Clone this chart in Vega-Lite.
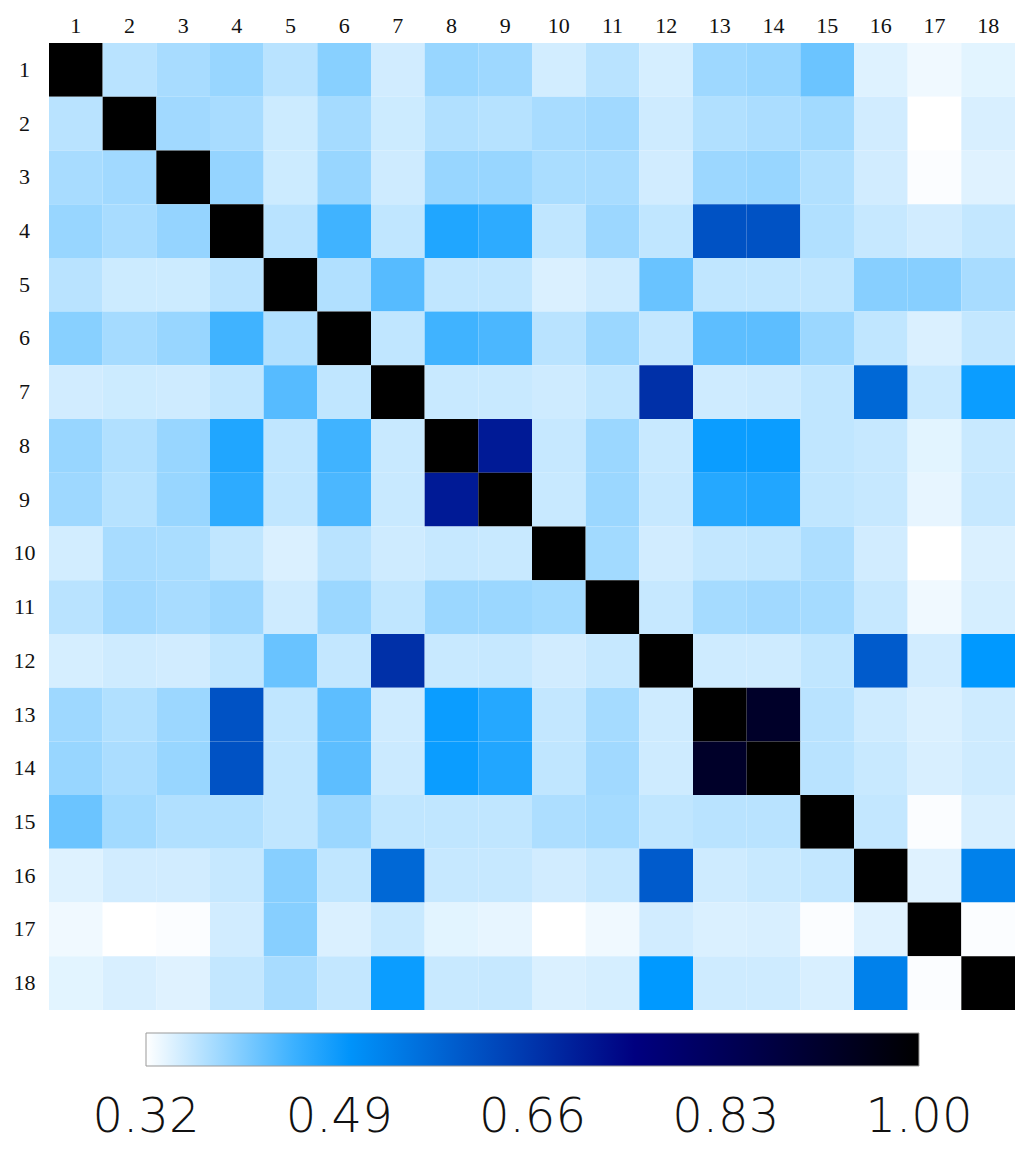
{
  "$schema": "https://vega.github.io/schema/vega-lite/v6.json",
  "width": 966,
  "height": 967,
  "autosize": {"type": "none"},
  "padding": {"left": 49, "top": 43, "right": 9, "bottom": 151},
  "background": "white",
  "config": {"view": {"stroke": null}},
  "data": {"values": [
{"r":1,"c":1,"v":1},{"r":1,"c":2,"v":0.367},{"r":1,"c":3,"v":0.378},{"r":1,"c":4,"v":0.389},{"r":1,"c":5,"v":0.367},{"r":1,"c":6,"v":0.399},{"r":1,"c":7,"v":0.351},{"r":1,"c":8,"v":0.389},{"r":1,"c":9,"v":0.385},{"r":1,"c":10,"v":0.350},{"r":1,"c":11,"v":0.367},{"r":1,"c":12,"v":0.348},{"r":1,"c":13,"v":0.385},{"r":1,"c":14,"v":0.389},{"r":1,"c":15,"v":0.419},{"r":1,"c":16,"v":0.342},{"r":1,"c":17,"v":0.330},{"r":1,"c":18,"v":0.339},
{"r":2,"c":1,"v":0.367},{"r":2,"c":2,"v":1},{"r":2,"c":3,"v":0.383},{"r":2,"c":4,"v":0.378},{"r":2,"c":5,"v":0.354},{"r":2,"c":6,"v":0.380},{"r":2,"c":7,"v":0.354},{"r":2,"c":8,"v":0.372},{"r":2,"c":9,"v":0.369},{"r":2,"c":10,"v":0.378},{"r":2,"c":11,"v":0.383},{"r":2,"c":12,"v":0.353},{"r":2,"c":13,"v":0.372},{"r":2,"c":14,"v":0.376},{"r":2,"c":15,"v":0.382},{"r":2,"c":16,"v":0.351},{"r":2,"c":17,"v":0.320},{"r":2,"c":18,"v":0.346},
{"r":3,"c":1,"v":0.378},{"r":3,"c":2,"v":0.383},{"r":3,"c":3,"v":1},{"r":3,"c":4,"v":0.391},{"r":3,"c":5,"v":0.354},{"r":3,"c":6,"v":0.389},{"r":3,"c":7,"v":0.353},{"r":3,"c":8,"v":0.389},{"r":3,"c":9,"v":0.389},{"r":3,"c":10,"v":0.377},{"r":3,"c":11,"v":0.378},{"r":3,"c":12,"v":0.351},{"r":3,"c":13,"v":0.386},{"r":3,"c":14,"v":0.389},{"r":3,"c":15,"v":0.372},{"r":3,"c":16,"v":0.351},{"r":3,"c":17,"v":0.323},{"r":3,"c":18,"v":0.341},
{"r":4,"c":1,"v":0.389},{"r":4,"c":2,"v":0.378},{"r":4,"c":3,"v":0.391},{"r":4,"c":4,"v":1},{"r":4,"c":5,"v":0.367},{"r":4,"c":6,"v":0.447},{"r":4,"c":7,"v":0.362},{"r":4,"c":8,"v":0.469},{"r":4,"c":9,"v":0.460},{"r":4,"c":10,"v":0.362},{"r":4,"c":11,"v":0.386},{"r":4,"c":12,"v":0.362},{"r":4,"c":13,"v":0.610},{"r":4,"c":14,"v":0.610},{"r":4,"c":15,"v":0.372},{"r":4,"c":16,"v":0.358},{"r":4,"c":17,"v":0.351},{"r":4,"c":18,"v":0.360},
{"r":5,"c":1,"v":0.367},{"r":5,"c":2,"v":0.354},{"r":5,"c":3,"v":0.354},{"r":5,"c":4,"v":0.367},{"r":5,"c":5,"v":1},{"r":5,"c":6,"v":0.372},{"r":5,"c":7,"v":0.433},{"r":5,"c":8,"v":0.362},{"r":5,"c":9,"v":0.362},{"r":5,"c":10,"v":0.345},{"r":5,"c":11,"v":0.353},{"r":5,"c":12,"v":0.420},{"r":5,"c":13,"v":0.362},{"r":5,"c":14,"v":0.362},{"r":5,"c":15,"v":0.362},{"r":5,"c":16,"v":0.400},{"r":5,"c":17,"v":0.400},{"r":5,"c":18,"v":0.378},
{"r":6,"c":1,"v":0.399},{"r":6,"c":2,"v":0.380},{"r":6,"c":3,"v":0.389},{"r":6,"c":4,"v":0.447},{"r":6,"c":5,"v":0.372},{"r":6,"c":6,"v":1},{"r":6,"c":7,"v":0.362},{"r":6,"c":8,"v":0.447},{"r":6,"c":9,"v":0.440},{"r":6,"c":10,"v":0.367},{"r":6,"c":11,"v":0.387},{"r":6,"c":12,"v":0.360},{"r":6,"c":13,"v":0.428},{"r":6,"c":14,"v":0.428},{"r":6,"c":15,"v":0.387},{"r":6,"c":16,"v":0.362},{"r":6,"c":17,"v":0.345},{"r":6,"c":18,"v":0.360},
{"r":7,"c":1,"v":0.351},{"r":7,"c":2,"v":0.354},{"r":7,"c":3,"v":0.353},{"r":7,"c":4,"v":0.362},{"r":7,"c":5,"v":0.433},{"r":7,"c":6,"v":0.362},{"r":7,"c":7,"v":1},{"r":7,"c":8,"v":0.357},{"r":7,"c":9,"v":0.357},{"r":7,"c":10,"v":0.353},{"r":7,"c":11,"v":0.362},{"r":7,"c":12,"v":0.668},{"r":7,"c":13,"v":0.353},{"r":7,"c":14,"v":0.355},{"r":7,"c":15,"v":0.362},{"r":7,"c":16,"v":0.573},{"r":7,"c":17,"v":0.357},{"r":7,"c":18,"v":0.483},
{"r":8,"c":1,"v":0.389},{"r":8,"c":2,"v":0.372},{"r":8,"c":3,"v":0.389},{"r":8,"c":4,"v":0.469},{"r":8,"c":5,"v":0.362},{"r":8,"c":6,"v":0.447},{"r":8,"c":7,"v":0.357},{"r":8,"c":8,"v":1},{"r":8,"c":9,"v":0.705},{"r":8,"c":10,"v":0.358},{"r":8,"c":11,"v":0.387},{"r":8,"c":12,"v":0.357},{"r":8,"c":13,"v":0.483},{"r":8,"c":14,"v":0.483},{"r":8,"c":15,"v":0.362},{"r":8,"c":16,"v":0.358},{"r":8,"c":17,"v":0.339},{"r":8,"c":18,"v":0.357},
{"r":9,"c":1,"v":0.385},{"r":9,"c":2,"v":0.369},{"r":9,"c":3,"v":0.389},{"r":9,"c":4,"v":0.460},{"r":9,"c":5,"v":0.362},{"r":9,"c":6,"v":0.440},{"r":9,"c":7,"v":0.357},{"r":9,"c":8,"v":0.705},{"r":9,"c":9,"v":1},{"r":9,"c":10,"v":0.357},{"r":9,"c":11,"v":0.387},{"r":9,"c":12,"v":0.358},{"r":9,"c":13,"v":0.465},{"r":9,"c":14,"v":0.468},{"r":9,"c":15,"v":0.362},{"r":9,"c":16,"v":0.358},{"r":9,"c":17,"v":0.336},{"r":9,"c":18,"v":0.358},
{"r":10,"c":1,"v":0.350},{"r":10,"c":2,"v":0.378},{"r":10,"c":3,"v":0.377},{"r":10,"c":4,"v":0.362},{"r":10,"c":5,"v":0.345},{"r":10,"c":6,"v":0.367},{"r":10,"c":7,"v":0.353},{"r":10,"c":8,"v":0.358},{"r":10,"c":9,"v":0.357},{"r":10,"c":10,"v":1},{"r":10,"c":11,"v":0.382},{"r":10,"c":12,"v":0.351},{"r":10,"c":13,"v":0.360},{"r":10,"c":14,"v":0.362},{"r":10,"c":15,"v":0.375},{"r":10,"c":16,"v":0.351},{"r":10,"c":17,"v":0.320},{"r":10,"c":18,"v":0.345},
{"r":11,"c":1,"v":0.367},{"r":11,"c":2,"v":0.383},{"r":11,"c":3,"v":0.378},{"r":11,"c":4,"v":0.386},{"r":11,"c":5,"v":0.353},{"r":11,"c":6,"v":0.387},{"r":11,"c":7,"v":0.362},{"r":11,"c":8,"v":0.387},{"r":11,"c":9,"v":0.387},{"r":11,"c":10,"v":0.382},{"r":11,"c":11,"v":1},{"r":11,"c":12,"v":0.358},{"r":11,"c":13,"v":0.380},{"r":11,"c":14,"v":0.383},{"r":11,"c":15,"v":0.380},{"r":11,"c":16,"v":0.358},{"r":11,"c":17,"v":0.330},{"r":11,"c":18,"v":0.348},
{"r":12,"c":1,"v":0.348},{"r":12,"c":2,"v":0.353},{"r":12,"c":3,"v":0.351},{"r":12,"c":4,"v":0.362},{"r":12,"c":5,"v":0.420},{"r":12,"c":6,"v":0.360},{"r":12,"c":7,"v":0.668},{"r":12,"c":8,"v":0.357},{"r":12,"c":9,"v":0.358},{"r":12,"c":10,"v":0.351},{"r":12,"c":11,"v":0.358},{"r":12,"c":12,"v":1},{"r":12,"c":13,"v":0.353},{"r":12,"c":14,"v":0.353},{"r":12,"c":15,"v":0.362},{"r":12,"c":16,"v":0.595},{"r":12,"c":17,"v":0.351},{"r":12,"c":18,"v":0.490},
{"r":13,"c":1,"v":0.385},{"r":13,"c":2,"v":0.372},{"r":13,"c":3,"v":0.386},{"r":13,"c":4,"v":0.610},{"r":13,"c":5,"v":0.362},{"r":13,"c":6,"v":0.428},{"r":13,"c":7,"v":0.353},{"r":13,"c":8,"v":0.483},{"r":13,"c":9,"v":0.465},{"r":13,"c":10,"v":0.360},{"r":13,"c":11,"v":0.380},{"r":13,"c":12,"v":0.353},{"r":13,"c":13,"v":1},{"r":13,"c":14,"v":0.920},{"r":13,"c":15,"v":0.367},{"r":13,"c":16,"v":0.353},{"r":13,"c":17,"v":0.345},{"r":13,"c":18,"v":0.353},
{"r":14,"c":1,"v":0.389},{"r":14,"c":2,"v":0.376},{"r":14,"c":3,"v":0.389},{"r":14,"c":4,"v":0.610},{"r":14,"c":5,"v":0.362},{"r":14,"c":6,"v":0.428},{"r":14,"c":7,"v":0.355},{"r":14,"c":8,"v":0.483},{"r":14,"c":9,"v":0.468},{"r":14,"c":10,"v":0.362},{"r":14,"c":11,"v":0.383},{"r":14,"c":12,"v":0.353},{"r":14,"c":13,"v":0.920},{"r":14,"c":14,"v":1},{"r":14,"c":15,"v":0.367},{"r":14,"c":16,"v":0.357},{"r":14,"c":17,"v":0.346},{"r":14,"c":18,"v":0.353},
{"r":15,"c":1,"v":0.419},{"r":15,"c":2,"v":0.382},{"r":15,"c":3,"v":0.372},{"r":15,"c":4,"v":0.372},{"r":15,"c":5,"v":0.362},{"r":15,"c":6,"v":0.387},{"r":15,"c":7,"v":0.362},{"r":15,"c":8,"v":0.362},{"r":15,"c":9,"v":0.362},{"r":15,"c":10,"v":0.375},{"r":15,"c":11,"v":0.380},{"r":15,"c":12,"v":0.362},{"r":15,"c":13,"v":0.367},{"r":15,"c":14,"v":0.367},{"r":15,"c":15,"v":1},{"r":15,"c":16,"v":0.360},{"r":15,"c":17,"v":0.323},{"r":15,"c":18,"v":0.346},
{"r":16,"c":1,"v":0.342},{"r":16,"c":2,"v":0.351},{"r":16,"c":3,"v":0.351},{"r":16,"c":4,"v":0.358},{"r":16,"c":5,"v":0.400},{"r":16,"c":6,"v":0.362},{"r":16,"c":7,"v":0.573},{"r":16,"c":8,"v":0.358},{"r":16,"c":9,"v":0.358},{"r":16,"c":10,"v":0.351},{"r":16,"c":11,"v":0.358},{"r":16,"c":12,"v":0.595},{"r":16,"c":13,"v":0.353},{"r":16,"c":14,"v":0.357},{"r":16,"c":15,"v":0.360},{"r":16,"c":16,"v":1},{"r":16,"c":17,"v":0.341},{"r":16,"c":18,"v":0.530},
{"r":17,"c":1,"v":0.330},{"r":17,"c":2,"v":0.320},{"r":17,"c":3,"v":0.323},{"r":17,"c":4,"v":0.351},{"r":17,"c":5,"v":0.400},{"r":17,"c":6,"v":0.345},{"r":17,"c":7,"v":0.357},{"r":17,"c":8,"v":0.339},{"r":17,"c":9,"v":0.336},{"r":17,"c":10,"v":0.320},{"r":17,"c":11,"v":0.330},{"r":17,"c":12,"v":0.351},{"r":17,"c":13,"v":0.345},{"r":17,"c":14,"v":0.346},{"r":17,"c":15,"v":0.323},{"r":17,"c":16,"v":0.341},{"r":17,"c":17,"v":1},{"r":17,"c":18,"v":0.323},
{"r":18,"c":1,"v":0.339},{"r":18,"c":2,"v":0.346},{"r":18,"c":3,"v":0.341},{"r":18,"c":4,"v":0.360},{"r":18,"c":5,"v":0.378},{"r":18,"c":6,"v":0.360},{"r":18,"c":7,"v":0.483},{"r":18,"c":8,"v":0.357},{"r":18,"c":9,"v":0.358},{"r":18,"c":10,"v":0.345},{"r":18,"c":11,"v":0.348},{"r":18,"c":12,"v":0.490},{"r":18,"c":13,"v":0.353},{"r":18,"c":14,"v":0.353},{"r":18,"c":15,"v":0.346},{"r":18,"c":16,"v":0.530},{"r":18,"c":17,"v":0.323},{"r":18,"c":18,"v":1}
  ]},
  "mark": {"type": "rect"},
  "encoding": {
    "x": {
      "field": "c", "type": "ordinal",
      "scale": {"paddingInner": 0, "paddingOuter": 0},
      "axis": {"orient": "top", "title": null, "domain": false, "ticks": false, "labelAngle": 0,
        "labelFont": "Liberation Serif", "labelFontSize": 22, "labelColor": "#111",
        "labelBaseline": "alphabetic", "labelPadding": 11}
    },
    "y": {
      "field": "r", "type": "ordinal",
      "scale": {"paddingInner": 0, "paddingOuter": 0},
      "axis": {"title": null, "domain": false, "ticks": false,
        "labelFont": "Liberation Serif", "labelFontSize": 22, "labelColor": "#111",
        "labelAlign": "center", "labelBaseline": "middle", "labelPadding": 25}
    },
    "color": {
      "field": "v", "type": "quantitative",
      "scale": {"type": "linear", "domain": [0.32, 0.49, 0.75, 1.0],
        "range": ["#ffffff", "#0099ff", "#000080", "#000000"], "interpolate": "rgb"},
      "legend": {
        "orient": "none", "direction": "horizontal", "title": null,
        "legendX": 97, "legendY": 990,
        "gradientLength": 773, "gradientThickness": 33,
        "gradientStrokeColor": "#999999", "gradientStrokeWidth": 1,
        "values": [0.32, 0.49, 0.66, 0.83, 1.0], "format": ".2f",
        "labelFont": "DejaVu Sans", "labelFontWeight": 200, "labelFontSize": 48,
        "labelColor": "#111", "labelAlign": "center", "labelOffset": 28,
        "labelOverlap": false,
        "encode": {"labels": {"update": {"align": {"value": "center"}}}}
      }
    }
  }
}
